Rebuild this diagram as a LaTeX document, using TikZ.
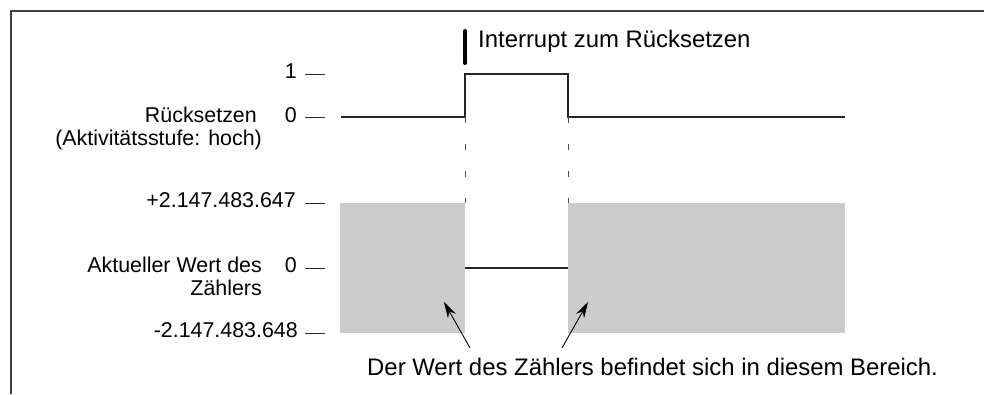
\documentclass[tikz,border=0pt]{standalone}
\usepackage{fontspec}
\setmainfont{Liberation Sans}
\usetikzlibrary{arrows.meta,positioning}

\begin{document}
\begin{tikzpicture}[
    x=1pt, y=-1pt,
    signal/.style={line width=1.2pt, color=black!85},
    tickmark/.style={line width=1pt, color=black!85},
    guide/.style={line width=1pt, color=black!70, dash pattern=on 6pt off 21pt},
    valuearea/.style={fill=black!20, draw=none},
    lbl/.style={font=\fontsize{21.4}{23}\selectfont, inner sep=0pt, anchor=base east},
    note/.style={font=\fontsize{23.9}{27}\selectfont, inner sep=0pt},
    pointer/.style={-{Stealth[length=16pt,width=9pt]}, line width=0.9pt}
]
    \useasboundingbox (0,0) rectangle (984,394);
    \draw[line width=1.5pt, color=black!75] (11,394) -- (11,11) -- (984,11);

    % value ranges of the counter
    \fill[valuearea] (340,203) rectangle (465,333);
    \fill[valuearea] (568,203) rectangle (845,333);

    % reset signal
    \draw[signal] (341,117) -- (465,117) -- (465,74) -- (568,74) -- (568,117) -- (845,117);
    \draw[guide] (465,117) -- (465,203);
    \draw[guide] (568,117) -- (568,203);
    \draw[signal] (465,268) -- (568,268);

    \draw[line width=4pt, line cap=round] (465,31) -- (465,63);
    \node[note, anchor=base west] (interrupt) at (478,47) {Interrupt zum Rücksetzen};

    % ticks and levels
    \foreach \y in {74,117,203,268,333}
        \draw[tickmark] (305,\y) -- (325,\y);
    \node[lbl] (one) at (297,78) {1};
    \node[lbl] (zero) at (297,122) {0};
    \node[lbl] (maxval) at (296,207) {+2.147.483.647};
    \node[lbl] (zerocount) at (297,272) {0};
    \node[lbl] (minval) at (298,337) {-2.147.483.648};

    \node[lbl] (reset) at (257,122) {Rücksetzen};
    \node[lbl] (resetlevel) at (262,145) {(Aktivitätsstufe: hoch)};
    \node[lbl] (counter) at (262,272) {Aktueller Wert des};
    \node[lbl] (countername) at (262,295) {Zählers};

    % explanation
    \node[note, anchor=base west] (explain) at (367,375) {Der Wert des Zählers befindet sich in diesem Bereich.};
    \coordinate (lefttail) at (470,348);
    \coordinate (lefttip) at (444,302);
    \coordinate (righttail) at (562,348);
    \coordinate (righttip) at (588,302);
    \draw[pointer] (lefttail) -- (lefttip);
    \draw[pointer] (righttail) -- (righttip);
\end{tikzpicture}
\end{document}
